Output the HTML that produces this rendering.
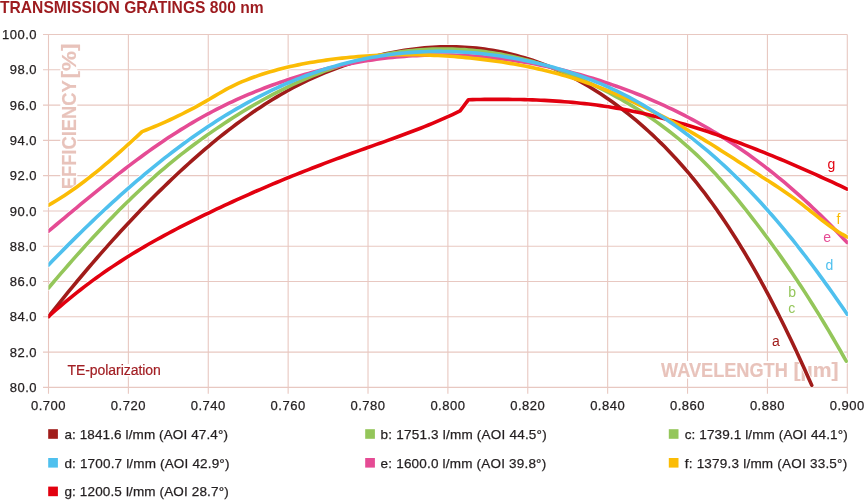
<!DOCTYPE html>
<html><head><meta charset="utf-8"><style>
html,body{margin:0;padding:0;background:#fff;}
body{width:865px;height:500px;overflow:hidden;position:relative;}
svg{position:absolute;left:0;top:0;will-change:transform;}
text{font-family:"Liberation Sans",sans-serif;}
.tick{font-size:13px;fill:#231f20;stroke:#231f20;stroke-width:0.25px;letter-spacing:0.5px;}
.leg text{stroke:#231f20;stroke-width:0.25px;} .leg{font-size:13.5px;fill:#231f20;letter-spacing:0px;}
.axt{font-size:20px;font-weight:bold;fill:#e8c3bb;stroke:#e8c3bb;stroke-width:0.15px;letter-spacing:0px;}
.tep{font-size:14px;fill:#a21f24;stroke:#a21f24;stroke-width:0.2px;letter-spacing:0px;}
.clab{font-size:14px;}
.title{font-size:16.5px;font-weight:bold;fill:#9d1b1f;letter-spacing:0px;}
</style></head><body>
<svg width="865" height="500" viewBox="0 0 865 500">
<text class="title" transform="translate(0,12.7) scale(0.948,1)">TRANSMISSION GRATINGS 800 nm</text>
<g stroke="#e8c8c1" stroke-width="1.1" fill="none"><line x1="43" y1="34.50" x2="847.30" y2="34.50"/><line x1="43" y1="69.79" x2="847.30" y2="69.79"/><line x1="43" y1="105.08" x2="847.30" y2="105.08"/><line x1="43" y1="140.37" x2="847.30" y2="140.37"/><line x1="43" y1="175.66" x2="847.30" y2="175.66"/><line x1="43" y1="210.95" x2="847.30" y2="210.95"/><line x1="43" y1="246.24" x2="847.30" y2="246.24"/><line x1="43" y1="281.53" x2="847.30" y2="281.53"/><line x1="43" y1="316.82" x2="847.30" y2="316.82"/><line x1="43" y1="352.11" x2="847.30" y2="352.11"/><line x1="43" y1="387.40" x2="847.30" y2="387.40"/><line x1="48.50" y1="34.50" x2="48.50" y2="393.7"/><line x1="128.38" y1="34.50" x2="128.38" y2="393.7"/><line x1="208.26" y1="34.50" x2="208.26" y2="393.7"/><line x1="288.14" y1="34.50" x2="288.14" y2="393.7"/><line x1="368.02" y1="34.50" x2="368.02" y2="393.7"/><line x1="447.90" y1="34.50" x2="447.90" y2="393.7"/><line x1="527.78" y1="34.50" x2="527.78" y2="393.7"/><line x1="607.66" y1="34.50" x2="607.66" y2="393.7"/><line x1="687.54" y1="34.50" x2="687.54" y2="393.7"/><line x1="767.42" y1="34.50" x2="767.42" y2="393.7"/><line x1="847.30" y1="34.50" x2="847.30" y2="393.7"/></g>

<rect x="60.3" y="42" width="17" height="147" fill="#fff"/>
<text class="axt" transform="translate(75.6,189.3) rotate(-90)" textLength="109" lengthAdjust="spacingAndGlyphs">EFFICIENCY</text>
<text class="axt" transform="translate(75.6,78.5) rotate(-90)" textLength="34.9" lengthAdjust="spacingAndGlyphs">[%]</text>
<rect x="659" y="361" width="180" height="17.6" fill="#fff"/>
<text class="axt" x="661" y="376.6" textLength="126.8" lengthAdjust="spacingAndGlyphs">WAVELENGTH</text>
<text class="axt" x="793.6" y="376.6" textLength="45" lengthAdjust="spacingAndGlyphs">[µm]</text>
<rect x="66" y="364" width="96" height="12.5" fill="#fff"/>
<text class="tep" x="67.4" y="375.1" textLength="93.4">TE-polarization</text>

<g class="tick"><text x="37" y="39.10" text-anchor="end">100.0</text><text x="37" y="74.39" text-anchor="end">98.0</text><text x="37" y="109.68" text-anchor="end">96.0</text><text x="37" y="144.97" text-anchor="end">94.0</text><text x="37" y="180.26" text-anchor="end">92.0</text><text x="37" y="215.55" text-anchor="end">90.0</text><text x="37" y="250.84" text-anchor="end">88.0</text><text x="37" y="286.13" text-anchor="end">86.0</text><text x="37" y="321.42" text-anchor="end">84.0</text><text x="37" y="356.71" text-anchor="end">82.0</text><text x="37" y="392.00" text-anchor="end">80.0</text><text x="48.50" y="410" text-anchor="middle">0.700</text><text x="128.38" y="410" text-anchor="middle">0.720</text><text x="208.26" y="410" text-anchor="middle">0.740</text><text x="288.14" y="410" text-anchor="middle">0.760</text><text x="368.02" y="410" text-anchor="middle">0.780</text><text x="447.90" y="410" text-anchor="middle">0.800</text><text x="527.78" y="410" text-anchor="middle">0.820</text><text x="607.66" y="410" text-anchor="middle">0.840</text><text x="687.54" y="410" text-anchor="middle">0.860</text><text x="767.42" y="410" text-anchor="middle">0.880</text><text x="847.30" y="410" text-anchor="middle">0.900</text></g>
<defs><clipPath id="pc"><rect x="48.4" y="20" width="799.5" height="367.6"/></clipPath></defs><g clip-path="url(#pc)"><g fill="none" stroke="#fff" stroke-width="5.2" stroke-linejoin="round" stroke-linecap="round"><path d="M48.50,316.60 L52.50,311.55 L56.50,306.53 L60.50,301.55 L64.50,296.61 L68.50,291.71 L72.50,286.84 L76.50,282.02 L80.50,277.23 L84.50,272.48 L88.50,267.78 L92.50,263.11 L96.50,258.48 L100.50,253.89 L104.50,249.35 L108.50,244.84 L112.50,240.38 L116.50,235.96 L120.50,231.58 L124.50,227.24 L128.50,222.94 L132.50,218.69 L136.50,214.47 L140.50,210.31 L144.50,206.18 L148.50,202.10 L152.50,198.06 L156.50,194.06 L160.50,190.11 L164.50,186.21 L168.50,182.34 L172.50,178.53 L176.50,174.76 L180.50,171.03 L184.50,167.35 L188.50,163.72 L192.50,160.14 L196.50,156.60 L200.50,153.12 L204.50,149.68 L208.50,146.29 L212.50,142.96 L216.50,139.68 L220.50,136.45 L224.50,133.27 L228.50,130.15 L232.50,127.08 L236.50,124.06 L240.50,121.10 L244.50,118.20 L248.50,115.36 L252.50,112.57 L256.50,109.84 L260.50,107.17 L264.50,104.56 L268.50,102.01 L272.50,99.53 L276.50,97.10 L280.50,94.74 L284.50,92.44 L288.50,90.20 L292.50,88.03 L296.50,85.92 L300.50,83.88 L304.50,81.90 L308.50,79.98 L312.50,78.12 L316.50,76.33 L320.50,74.59 L324.50,72.91 L328.50,71.28 L332.50,69.72 L336.50,68.20 L340.50,66.75 L344.50,65.34 L348.50,63.99 L352.50,62.69 L356.50,61.45 L360.50,60.25 L364.50,59.10 L368.50,58.00 L372.50,56.95 L376.50,55.95 L380.50,54.99 L384.50,54.09 L388.50,53.23 L392.50,52.42 L396.50,51.67 L400.50,50.97 L404.50,50.32 L408.50,49.72 L412.50,49.17 L416.50,48.68 L420.50,48.25 L424.50,47.86 L428.50,47.54 L432.50,47.27 L436.50,47.05 L440.50,46.90 L444.50,46.80 L448.50,46.76 L452.50,46.77 L456.50,46.85 L460.50,46.99 L464.50,47.19 L468.50,47.44 L472.50,47.76 L476.50,48.15 L480.50,48.59 L484.50,49.10 L488.50,49.67 L492.50,50.31 L496.50,51.01 L500.50,51.77 L504.50,52.61 L508.50,53.50 L512.50,54.47 L516.50,55.50 L520.50,56.61 L524.50,57.78 L528.50,59.02 L532.50,60.32 L536.50,61.70 L540.50,63.16 L544.50,64.68 L548.50,66.27 L552.50,67.94 L556.50,69.68 L560.50,71.49 L564.50,73.38 L568.50,75.35 L572.50,77.38 L576.50,79.50 L580.50,81.69 L584.50,83.96 L588.50,86.30 L592.50,88.73 L596.50,91.23 L600.50,93.81 L604.50,96.48 L608.50,99.22 L612.50,102.04 L616.50,104.95 L620.50,107.93 L624.50,111.00 L628.50,114.16 L632.50,117.39 L636.50,120.71 L640.50,124.12 L644.50,127.63 L648.50,131.22 L652.50,134.91 L656.50,138.71 L660.50,142.60 L664.50,146.60 L668.50,150.71 L672.50,154.92 L676.50,159.25 L680.50,163.70 L684.50,168.26 L688.50,172.95 L692.50,177.76 L696.50,182.70 L700.50,187.77 L704.50,192.96 L708.50,198.30 L712.50,203.77 L716.50,209.38 L720.50,215.12 L724.50,221.00 L728.50,227.03 L732.50,233.19 L736.50,239.50 L740.50,245.95 L744.50,252.54 L748.50,259.28 L752.50,266.17 L756.50,273.21 L760.50,280.39 L764.50,287.71 L768.50,295.18 L772.50,302.80 L776.50,310.57 L780.50,318.48 L784.50,326.53 L788.50,334.73 L792.50,343.08 L796.50,351.57 L800.50,360.20 L804.50,368.98 L808.50,377.90 L811.80,385.37"/><path d="M48.50,288.01 L52.50,283.28 L56.50,278.59 L60.50,273.93 L64.50,269.31 L68.50,264.72 L72.50,260.17 L76.50,255.65 L80.50,251.18 L84.50,246.75 L88.50,242.35 L92.50,238.00 L96.50,233.70 L100.50,229.43 L104.50,225.22 L108.50,221.04 L112.50,216.92 L116.50,212.84 L120.50,208.81 L124.50,204.84 L128.50,200.91 L132.50,197.04 L136.50,193.22 L140.50,189.45 L144.50,185.74 L148.50,182.08 L152.50,178.48 L156.50,174.94 L160.50,171.46 L164.50,168.04 L168.50,164.68 L172.50,161.38 L176.50,158.14 L180.50,154.96 L184.50,151.84 L188.50,148.77 L192.50,145.75 L196.50,142.78 L200.50,139.86 L204.50,136.98 L208.50,134.15 L212.50,131.36 L216.50,128.61 L220.50,125.90 L224.50,123.24 L228.50,120.62 L232.50,118.04 L236.50,115.50 L240.50,113.01 L244.50,110.56 L248.50,108.16 L252.50,105.80 L256.50,103.48 L260.50,101.21 L264.50,98.98 L268.50,96.80 L272.50,94.67 L276.50,92.58 L280.50,90.54 L284.50,88.54 L288.50,86.59 L292.50,84.69 L296.50,82.83 L300.50,81.02 L304.50,79.27 L308.50,77.55 L312.50,75.89 L316.50,74.28 L320.50,72.71 L324.50,71.19 L328.50,69.73 L332.50,68.31 L336.50,66.94 L340.50,65.63 L344.50,64.36 L348.50,63.14 L352.50,61.97 L356.50,60.86 L360.50,59.79 L364.50,58.77 L368.50,57.80 L372.50,56.88 L376.50,56.02 L380.50,55.20 L384.50,54.43 L388.50,53.72 L392.50,53.05 L396.50,52.43 L400.50,51.87 L404.50,51.35 L408.50,50.89 L412.50,50.47 L416.50,50.11 L420.50,49.79 L424.50,49.53 L428.50,49.31 L432.50,49.15 L436.50,49.04 L440.50,48.98 L444.50,48.97 L448.50,49.01 L452.50,49.10 L456.50,49.24 L460.50,49.43 L464.50,49.67 L468.50,49.96 L472.50,50.31 L476.50,50.70 L480.50,51.15 L484.50,51.65 L488.50,52.19 L492.50,52.79 L496.50,53.44 L500.50,54.14 L504.50,54.90 L508.50,55.70 L512.50,56.55 L516.50,57.46 L520.50,58.41 L524.50,59.42 L528.50,60.48 L532.50,61.59 L536.50,62.75 L540.50,63.97 L544.50,65.23 L548.50,66.55 L552.50,67.91 L556.50,69.33 L560.50,70.80 L564.50,72.32 L568.50,73.90 L572.50,75.52 L576.50,77.20 L580.50,78.92 L584.50,80.70 L588.50,82.54 L592.50,84.42 L596.50,86.35 L600.50,88.34 L604.50,90.38 L608.50,92.47 L612.50,94.61 L616.50,96.81 L620.50,99.05 L624.50,101.35 L628.50,103.70 L632.50,106.11 L636.50,108.57 L640.50,111.09 L644.50,113.68 L648.50,116.34 L652.50,119.07 L656.50,121.87 L660.50,124.75 L664.50,127.71 L668.50,130.75 L672.50,133.89 L676.50,137.11 L680.50,140.42 L684.50,143.84 L688.50,147.35 L692.50,150.97 L696.50,154.69 L700.50,158.52 L704.50,162.47 L708.50,166.53 L712.50,170.71 L716.50,175.01 L720.50,179.43 L724.50,183.96 L728.50,188.59 L732.50,193.32 L736.50,198.15 L740.50,203.06 L744.50,208.06 L748.50,213.13 L752.50,218.28 L756.50,223.50 L760.50,228.78 L764.50,234.12 L768.50,239.52 L772.50,244.99 L776.50,250.53 L780.50,256.15 L784.50,261.85 L788.50,267.63 L792.50,273.49 L796.50,279.45 L800.50,285.50 L804.50,291.64 L808.50,297.88 L812.50,304.22 L816.50,310.64 L820.50,317.15 L824.50,323.76 L828.50,330.44 L832.50,337.22 L836.50,344.08 L840.50,351.02 L844.50,358.04 L846.30,361.22"/><path d="M48.50,231.23 L52.50,227.86 L56.50,224.50 L60.50,221.14 L64.50,217.79 L68.50,214.44 L72.50,211.10 L76.50,207.78 L80.50,204.46 L84.50,201.16 L88.50,197.88 L92.50,194.61 L96.50,191.36 L100.50,188.13 L104.50,184.92 L108.50,181.73 L112.50,178.57 L116.50,175.43 L120.50,172.32 L124.50,169.23 L128.50,166.18 L132.50,163.16 L136.50,160.17 L140.50,157.21 L144.50,154.30 L148.50,151.41 L152.50,148.57 L156.50,145.77 L160.50,143.01 L164.50,140.29 L168.50,137.62 L172.50,134.99 L176.50,132.41 L180.50,129.88 L184.50,127.41 L188.50,124.98 L192.50,122.60 L196.50,120.28 L200.50,118.01 L204.50,115.79 L208.50,113.61 L212.50,111.49 L216.50,109.41 L220.50,107.39 L224.50,105.40 L228.50,103.47 L232.50,101.58 L236.50,99.73 L240.50,97.93 L244.50,96.18 L248.50,94.46 L252.50,92.79 L256.50,91.16 L260.50,89.57 L264.50,88.02 L268.50,86.51 L272.50,85.04 L276.50,83.60 L280.50,82.21 L284.50,80.85 L288.50,79.53 L292.50,78.24 L296.50,76.99 L300.50,75.77 L304.50,74.59 L308.50,73.45 L312.50,72.34 L316.50,71.26 L320.50,70.22 L324.50,69.22 L328.50,68.24 L332.50,67.31 L336.50,66.41 L340.50,65.54 L344.50,64.71 L348.50,63.91 L352.50,63.15 L356.50,62.42 L360.50,61.73 L364.50,61.07 L368.50,60.44 L372.50,59.85 L376.50,59.29 L380.50,58.77 L384.50,58.28 L388.50,57.83 L392.50,57.40 L396.50,57.02 L400.50,56.66 L404.50,56.34 L408.50,56.06 L412.50,55.81 L416.50,55.59 L420.50,55.40 L424.50,55.25 L428.50,55.13 L432.50,55.05 L436.50,54.99 L440.50,54.98 L444.50,54.99 L448.50,55.04 L452.50,55.12 L456.50,55.23 L460.50,55.38 L464.50,55.56 L468.50,55.77 L472.50,56.02 L476.50,56.29 L480.50,56.61 L484.50,56.95 L488.50,57.32 L492.50,57.73 L496.50,58.17 L500.50,58.64 L504.50,59.15 L508.50,59.69 L512.50,60.26 L516.50,60.86 L520.50,61.49 L524.50,62.16 L528.50,62.85 L532.50,63.58 L536.50,64.35 L540.50,65.14 L544.50,65.96 L548.50,66.82 L552.50,67.71 L556.50,68.63 L560.50,69.58 L564.50,70.56 L568.50,71.58 L572.50,72.62 L576.50,73.70 L580.50,74.81 L584.50,75.95 L588.50,77.13 L592.50,78.33 L596.50,79.57 L600.50,80.84 L604.50,82.14 L608.50,83.47 L612.50,84.84 L616.50,86.23 L620.50,87.66 L624.50,89.12 L628.50,90.61 L632.50,92.14 L636.50,93.70 L640.50,95.29 L644.50,96.92 L648.50,98.59 L652.50,100.30 L656.50,102.04 L660.50,103.83 L664.50,105.65 L668.50,107.52 L672.50,109.42 L676.50,111.37 L680.50,113.37 L684.50,115.40 L688.50,117.49 L692.50,119.62 L696.50,121.79 L700.50,124.02 L704.50,126.29 L708.50,128.60 L712.50,130.97 L716.50,133.39 L720.50,135.85 L724.50,138.37 L728.50,140.94 L732.50,143.55 L736.50,146.22 L740.50,148.95 L744.50,151.72 L748.50,154.55 L752.50,157.43 L756.50,160.37 L760.50,163.36 L764.50,166.40 L768.50,169.50 L772.50,172.66 L776.50,175.87 L780.50,179.15 L784.50,182.47 L788.50,185.86 L792.50,189.31 L796.50,192.81 L800.50,196.38 L804.50,200.01 L808.50,203.69 L812.50,207.44 L816.50,211.25 L820.50,215.12 L824.50,219.06 L828.50,223.06 L832.50,227.12 L836.50,231.25 L840.50,235.44 L844.50,239.70 L847.20,242.61"/><path d="M48.50,316.60 L52.50,313.01 L56.50,309.48 L60.50,306.03 L64.50,302.64 L68.50,299.31 L72.50,296.05 L76.50,292.85 L80.50,289.71 L84.50,286.64 L88.50,283.61 L92.50,280.65 L96.50,277.74 L100.50,274.89 L104.50,272.08 L108.50,269.33 L112.50,266.63 L116.50,263.97 L120.50,261.37 L124.50,258.81 L128.50,256.29 L132.50,253.81 L136.50,251.38 L140.50,248.98 L144.50,246.63 L148.50,244.31 L152.50,242.03 L156.50,239.78 L160.50,237.56 L164.50,235.38 L168.50,233.23 L172.50,231.10 L176.50,229.00 L180.50,226.93 L184.50,224.88 L188.50,222.86 L192.50,220.85 L196.50,218.87 L200.50,216.91 L204.50,214.96 L208.50,213.03 L212.50,211.11 L216.50,209.21 L220.50,207.33 L224.50,205.46 L228.50,203.60 L232.50,201.76 L236.50,199.93 L240.50,198.12 L244.50,196.32 L248.50,194.54 L252.50,192.77 L256.50,191.02 L260.50,189.28 L264.50,187.56 L268.50,185.85 L272.50,184.16 L276.50,182.48 L280.50,180.82 L284.50,179.17 L288.50,177.53 L292.50,175.91 L296.50,174.31 L300.50,172.72 L304.50,171.14 L308.50,169.57 L312.50,168.02 L316.50,166.48 L320.50,164.95 L324.50,163.43 L328.50,161.92 L332.50,160.42 L336.50,158.93 L340.50,157.45 L344.50,155.98 L348.50,154.51 L352.50,153.06 L356.50,151.60 L360.50,150.16 L364.50,148.72 L368.50,147.29 L372.50,145.86 L376.50,144.43 L380.50,143.00 L384.50,141.57 L388.50,140.14 L392.50,138.70 L396.50,137.25 L400.50,135.78 L404.50,134.30 L408.50,132.81 L412.50,131.29 L416.50,129.76 L420.50,128.20 L424.50,126.61 L428.50,124.99 L432.50,123.35 L436.50,121.67 L440.50,119.95 L444.50,118.20 L448.50,116.40 L452.50,114.56 L456.50,112.68 L460.10,110.94 L460.10,110.90 L468.50,99.70 L472.50,99.62 L476.50,99.54 L480.50,99.48 L484.50,99.42 L488.50,99.38 L492.50,99.36 L496.50,99.34 L500.50,99.34 L504.50,99.35 L508.50,99.38 L512.50,99.43 L516.50,99.49 L520.50,99.56 L524.50,99.66 L528.50,99.77 L532.50,99.90 L536.50,100.05 L540.50,100.23 L544.50,100.42 L548.50,100.63 L552.50,100.87 L556.50,101.12 L560.50,101.41 L564.50,101.71 L568.50,102.04 L572.50,102.40 L576.50,102.78 L580.50,103.18 L584.50,103.62 L588.50,104.08 L592.50,104.57 L596.50,105.09 L600.50,105.64 L604.50,106.22 L608.50,106.83 L612.50,107.47 L616.50,108.14 L620.50,108.85 L624.50,109.59 L628.50,110.36 L632.50,111.16 L636.50,112.00 L640.50,112.86 L644.50,113.76 L648.50,114.69 L652.50,115.64 L656.50,116.63 L660.50,117.64 L664.50,118.69 L668.50,119.76 L672.50,120.86 L676.50,121.98 L680.50,123.13 L684.50,124.31 L688.50,125.52 L692.50,126.75 L696.50,128.00 L700.50,129.28 L704.50,130.58 L708.50,131.91 L712.50,133.26 L716.50,134.63 L720.50,136.02 L724.50,137.44 L728.50,138.87 L732.50,140.33 L736.50,141.81 L740.50,143.30 L744.50,144.82 L748.50,146.36 L752.50,147.91 L756.50,149.48 L760.50,151.07 L764.50,152.68 L768.50,154.31 L772.50,155.95 L776.50,157.60 L780.50,159.28 L784.50,160.96 L788.50,162.66 L792.50,164.38 L796.50,166.11 L800.50,167.85 L804.50,169.61 L808.50,171.37 L812.50,173.15 L816.50,174.94 L820.50,176.74 L824.50,178.56 L828.50,180.38 L832.50,182.21 L836.50,184.05 L840.50,185.90 L844.50,187.76 L847.20,189.02"/><path d="M48.50,205.20 L52.50,202.91 L56.50,200.52 L60.50,198.04 L64.50,195.45 L68.50,192.78 L72.50,190.02 L76.50,187.18 L80.50,184.25 L84.50,181.25 L88.50,178.18 L92.50,175.03 L96.50,171.82 L100.50,168.55 L104.50,165.22 L108.50,161.83 L112.50,158.38 L116.50,154.89 L120.50,151.35 L124.50,147.77 L128.50,144.15 L132.50,140.50 L136.50,136.81 L140.50,133.09 L142.10,131.60 L146.10,130.02 L150.10,128.41 L154.10,126.76 L158.10,125.07 L162.10,123.34 L166.10,121.56 L170.10,119.74 L174.10,117.87 L178.10,115.96 L182.10,113.99 L186.10,111.98 L190.10,109.91 L194.10,107.79 L198.10,105.62 L202.10,103.40 L206.10,101.12 L210.10,98.78 L214.10,96.40 L218.10,94.02 L222.10,91.68 L226.10,89.41 L230.10,87.27 L234.10,85.27 L238.10,83.42 L242.10,81.68 L246.10,80.06 L250.10,78.51 L254.10,77.04 L258.10,75.64 L262.10,74.30 L266.10,73.03 L270.10,71.82 L274.10,70.66 L278.10,69.57 L282.10,68.53 L286.10,67.54 L290.10,66.60 L294.10,65.71 L298.10,64.87 L302.10,64.07 L306.10,63.32 L310.10,62.60 L314.10,61.93 L318.10,61.29 L322.10,60.68 L326.10,60.11 L330.10,59.57 L334.10,59.06 L338.10,58.57 L342.10,58.12 L346.10,57.69 L350.10,57.30 L354.10,56.93 L358.10,56.59 L362.10,56.28 L366.10,55.99 L370.10,55.74 L374.10,55.51 L378.10,55.31 L382.10,55.14 L386.10,54.99 L390.10,54.87 L394.10,54.78 L398.10,54.72 L402.10,54.68 L406.10,54.67 L410.10,54.69 L414.10,54.73 L418.10,54.80 L422.10,54.89 L426.10,55.01 L430.10,55.16 L434.10,55.33 L438.10,55.53 L442.10,55.75 L446.10,56.00 L450.10,56.27 L454.10,56.57 L458.10,56.90 L462.10,57.24 L466.10,57.62 L470.10,58.01 L474.10,58.43 L478.10,58.88 L482.10,59.35 L486.10,59.84 L490.10,60.36 L494.10,60.91 L498.10,61.48 L502.10,62.08 L506.10,62.71 L510.10,63.37 L514.10,64.06 L518.10,64.78 L522.10,65.53 L526.10,66.31 L530.10,67.13 L534.10,67.98 L538.10,68.87 L542.10,69.79 L546.10,70.75 L550.10,71.74 L554.10,72.77 L558.10,73.85 L562.10,74.96 L566.10,76.11 L570.10,77.30 L574.10,78.54 L578.10,79.82 L582.10,81.14 L586.10,82.50 L590.10,83.91 L594.10,85.37 L598.10,86.87 L602.10,88.42 L606.10,90.02 L610.10,91.66 L614.10,93.36 L618.10,95.09 L622.10,96.87 L626.10,98.68 L630.10,100.52 L634.10,102.39 L638.10,104.29 L642.10,106.21 L646.10,108.14 L650.10,110.10 L654.10,112.08 L658.10,114.09 L662.10,116.14 L666.10,118.21 L670.10,120.32 L674.10,122.47 L678.10,124.66 L682.10,126.89 L686.10,129.17 L690.10,131.49 L694.10,133.84 L698.10,136.23 L702.10,138.65 L706.10,141.11 L710.10,143.58 L714.10,146.08 L718.10,148.61 L722.10,151.15 L726.10,153.70 L730.10,156.27 L734.10,158.85 L738.10,161.43 L742.10,164.02 L746.10,166.60 L750.10,169.19 L754.10,171.77 L758.10,174.34 L762.10,176.90 L766.10,179.46 L770.10,182.03 L774.10,184.62 L778.10,187.24 L782.10,189.91 L786.10,192.65 L790.10,195.46 L794.10,198.36 L798.10,201.36 L802.10,204.44 L806.10,207.59 L810.10,210.77 L814.10,213.96 L818.10,217.12 L822.10,220.24 L826.10,223.28 L830.10,226.22 L834.10,229.03 L838.10,231.68 L842.10,234.16 L846.10,236.42 L847.20,237.00"/><path d="M48.50,265.01 L52.50,260.87 L56.50,256.76 L60.50,252.68 L64.50,248.63 L68.50,244.61 L72.50,240.62 L76.50,236.65 L80.50,232.72 L84.50,228.82 L88.50,224.95 L92.50,221.12 L96.50,217.31 L100.50,213.54 L104.50,209.80 L108.50,206.10 L112.50,202.43 L116.50,198.80 L120.50,195.20 L124.50,191.65 L128.50,188.12 L132.50,184.64 L136.50,181.19 L140.50,177.79 L144.50,174.42 L148.50,171.09 L152.50,167.80 L156.50,164.55 L160.50,161.35 L164.50,158.19 L168.50,155.07 L172.50,151.99 L176.50,148.95 L180.50,145.96 L184.50,143.02 L188.50,140.12 L192.50,137.26 L196.50,134.45 L200.50,131.69 L204.50,128.97 L208.50,126.30 L212.50,123.67 L216.50,121.09 L220.50,118.56 L224.50,116.08 L228.50,113.64 L232.50,111.25 L236.50,108.91 L240.50,106.61 L244.50,104.36 L248.50,102.16 L252.50,100.01 L256.50,97.90 L260.50,95.84 L264.50,93.83 L268.50,91.86 L272.50,89.95 L276.50,88.07 L280.50,86.25 L284.50,84.47 L288.50,82.75 L292.50,81.06 L296.50,79.43 L300.50,77.84 L304.50,76.30 L308.50,74.81 L312.50,73.37 L316.50,71.97 L320.50,70.62 L324.50,69.32 L328.50,68.06 L332.50,66.86 L336.50,65.70 L340.50,64.58 L344.50,63.52 L348.50,62.50 L352.50,61.53 L356.50,60.60 L360.50,59.72 L364.50,58.88 L368.50,58.10 L372.50,57.35 L376.50,56.65 L380.50,56.00 L384.50,55.39 L388.50,54.82 L392.50,54.30 L396.50,53.82 L400.50,53.39 L404.50,53.00 L408.50,52.65 L412.50,52.35 L416.50,52.09 L420.50,51.87 L424.50,51.69 L428.50,51.56 L432.50,51.47 L436.50,51.42 L440.50,51.41 L444.50,51.44 L448.50,51.51 L452.50,51.63 L456.50,51.78 L460.50,51.98 L464.50,52.21 L468.50,52.49 L472.50,52.80 L476.50,53.15 L480.50,53.55 L484.50,53.98 L488.50,54.45 L492.50,54.96 L496.50,55.51 L500.50,56.09 L504.50,56.71 L508.50,57.37 L512.50,58.07 L516.50,58.81 L520.50,59.58 L524.50,60.39 L528.50,61.24 L532.50,62.12 L536.50,63.04 L540.50,63.99 L544.50,64.99 L548.50,66.03 L552.50,67.11 L556.50,68.23 L560.50,69.40 L564.50,70.61 L568.50,71.87 L572.50,73.17 L576.50,74.53 L580.50,75.93 L584.50,77.38 L588.50,78.89 L592.50,80.44 L596.50,82.05 L600.50,83.71 L604.50,85.43 L608.50,87.21 L612.50,89.04 L616.50,90.94 L620.50,92.89 L624.50,94.90 L628.50,96.96 L632.50,99.09 L636.50,101.28 L640.50,103.54 L644.50,105.85 L648.50,108.23 L652.50,110.67 L656.50,113.17 L660.50,115.73 L664.50,118.37 L668.50,121.06 L672.50,123.82 L676.50,126.65 L680.50,129.55 L684.50,132.51 L688.50,135.54 L692.50,138.64 L696.50,141.80 L700.50,145.04 L704.50,148.34 L708.50,151.72 L712.50,155.17 L716.50,158.69 L720.50,162.28 L724.50,165.94 L728.50,169.68 L732.50,173.49 L736.50,177.37 L740.50,181.33 L744.50,185.37 L748.50,189.48 L752.50,193.66 L756.50,197.93 L760.50,202.27 L764.50,206.69 L768.50,211.18 L772.50,215.75 L776.50,220.40 L780.50,225.12 L784.50,229.92 L788.50,234.79 L792.50,239.73 L796.50,244.75 L800.50,249.84 L804.50,254.99 L808.50,260.22 L812.50,265.52 L816.50,270.89 L820.50,276.32 L824.50,281.83 L828.50,287.39 L832.50,293.03 L836.50,298.73 L840.50,304.50 L844.50,310.33 L847.20,314.30"/></g><g fill="none" stroke-width="3.6" stroke-linejoin="round" stroke-linecap="round"><path d="M48.50,316.60 L52.50,311.55 L56.50,306.53 L60.50,301.55 L64.50,296.61 L68.50,291.71 L72.50,286.84 L76.50,282.02 L80.50,277.23 L84.50,272.48 L88.50,267.78 L92.50,263.11 L96.50,258.48 L100.50,253.89 L104.50,249.35 L108.50,244.84 L112.50,240.38 L116.50,235.96 L120.50,231.58 L124.50,227.24 L128.50,222.94 L132.50,218.69 L136.50,214.47 L140.50,210.31 L144.50,206.18 L148.50,202.10 L152.50,198.06 L156.50,194.06 L160.50,190.11 L164.50,186.21 L168.50,182.34 L172.50,178.53 L176.50,174.76 L180.50,171.03 L184.50,167.35 L188.50,163.72 L192.50,160.14 L196.50,156.60 L200.50,153.12 L204.50,149.68 L208.50,146.29 L212.50,142.96 L216.50,139.68 L220.50,136.45 L224.50,133.27 L228.50,130.15 L232.50,127.08 L236.50,124.06 L240.50,121.10 L244.50,118.20 L248.50,115.36 L252.50,112.57 L256.50,109.84 L260.50,107.17 L264.50,104.56 L268.50,102.01 L272.50,99.53 L276.50,97.10 L280.50,94.74 L284.50,92.44 L288.50,90.20 L292.50,88.03 L296.50,85.92 L300.50,83.88 L304.50,81.90 L308.50,79.98 L312.50,78.12 L316.50,76.33 L320.50,74.59 L324.50,72.91 L328.50,71.28 L332.50,69.72 L336.50,68.20 L340.50,66.75 L344.50,65.34 L348.50,63.99 L352.50,62.69 L356.50,61.45 L360.50,60.25 L364.50,59.10 L368.50,58.00 L372.50,56.95 L376.50,55.95 L380.50,54.99 L384.50,54.09 L388.50,53.23 L392.50,52.42 L396.50,51.67 L400.50,50.97 L404.50,50.32 L408.50,49.72 L412.50,49.17 L416.50,48.68 L420.50,48.25 L424.50,47.86 L428.50,47.54 L432.50,47.27 L436.50,47.05 L440.50,46.90 L444.50,46.80 L448.50,46.76 L452.50,46.77 L456.50,46.85 L460.50,46.99 L464.50,47.19 L468.50,47.44 L472.50,47.76 L476.50,48.15 L480.50,48.59 L484.50,49.10 L488.50,49.67 L492.50,50.31 L496.50,51.01 L500.50,51.77 L504.50,52.61 L508.50,53.50 L512.50,54.47 L516.50,55.50 L520.50,56.61 L524.50,57.78 L528.50,59.02 L532.50,60.32 L536.50,61.70 L540.50,63.16 L544.50,64.68 L548.50,66.27 L552.50,67.94 L556.50,69.68 L560.50,71.49 L564.50,73.38 L568.50,75.35 L572.50,77.38 L576.50,79.50 L580.50,81.69 L584.50,83.96 L588.50,86.30 L592.50,88.73 L596.50,91.23 L600.50,93.81 L604.50,96.48 L608.50,99.22 L612.50,102.04 L616.50,104.95 L620.50,107.93 L624.50,111.00 L628.50,114.16 L632.50,117.39 L636.50,120.71 L640.50,124.12 L644.50,127.63 L648.50,131.22 L652.50,134.91 L656.50,138.71 L660.50,142.60 L664.50,146.60 L668.50,150.71 L672.50,154.92 L676.50,159.25 L680.50,163.70 L684.50,168.26 L688.50,172.95 L692.50,177.76 L696.50,182.70 L700.50,187.77 L704.50,192.96 L708.50,198.30 L712.50,203.77 L716.50,209.38 L720.50,215.12 L724.50,221.00 L728.50,227.03 L732.50,233.19 L736.50,239.50 L740.50,245.95 L744.50,252.54 L748.50,259.28 L752.50,266.17 L756.50,273.21 L760.50,280.39 L764.50,287.71 L768.50,295.18 L772.50,302.80 L776.50,310.57 L780.50,318.48 L784.50,326.53 L788.50,334.73 L792.50,343.08 L796.50,351.57 L800.50,360.20 L804.50,368.98 L808.50,377.90 L811.80,385.37" stroke="#a01c1a"/><path d="M48.50,288.01 L52.50,283.28 L56.50,278.59 L60.50,273.93 L64.50,269.31 L68.50,264.72 L72.50,260.17 L76.50,255.65 L80.50,251.18 L84.50,246.75 L88.50,242.35 L92.50,238.00 L96.50,233.70 L100.50,229.43 L104.50,225.22 L108.50,221.04 L112.50,216.92 L116.50,212.84 L120.50,208.81 L124.50,204.84 L128.50,200.91 L132.50,197.04 L136.50,193.22 L140.50,189.45 L144.50,185.74 L148.50,182.08 L152.50,178.48 L156.50,174.94 L160.50,171.46 L164.50,168.04 L168.50,164.68 L172.50,161.38 L176.50,158.14 L180.50,154.96 L184.50,151.84 L188.50,148.77 L192.50,145.75 L196.50,142.78 L200.50,139.86 L204.50,136.98 L208.50,134.15 L212.50,131.36 L216.50,128.61 L220.50,125.90 L224.50,123.24 L228.50,120.62 L232.50,118.04 L236.50,115.50 L240.50,113.01 L244.50,110.56 L248.50,108.16 L252.50,105.80 L256.50,103.48 L260.50,101.21 L264.50,98.98 L268.50,96.80 L272.50,94.67 L276.50,92.58 L280.50,90.54 L284.50,88.54 L288.50,86.59 L292.50,84.69 L296.50,82.83 L300.50,81.02 L304.50,79.27 L308.50,77.55 L312.50,75.89 L316.50,74.28 L320.50,72.71 L324.50,71.19 L328.50,69.73 L332.50,68.31 L336.50,66.94 L340.50,65.63 L344.50,64.36 L348.50,63.14 L352.50,61.97 L356.50,60.86 L360.50,59.79 L364.50,58.77 L368.50,57.80 L372.50,56.88 L376.50,56.02 L380.50,55.20 L384.50,54.43 L388.50,53.72 L392.50,53.05 L396.50,52.43 L400.50,51.87 L404.50,51.35 L408.50,50.89 L412.50,50.47 L416.50,50.11 L420.50,49.79 L424.50,49.53 L428.50,49.31 L432.50,49.15 L436.50,49.04 L440.50,48.98 L444.50,48.97 L448.50,49.01 L452.50,49.10 L456.50,49.24 L460.50,49.43 L464.50,49.67 L468.50,49.96 L472.50,50.31 L476.50,50.70 L480.50,51.15 L484.50,51.65 L488.50,52.19 L492.50,52.79 L496.50,53.44 L500.50,54.14 L504.50,54.90 L508.50,55.70 L512.50,56.55 L516.50,57.46 L520.50,58.41 L524.50,59.42 L528.50,60.48 L532.50,61.59 L536.50,62.75 L540.50,63.97 L544.50,65.23 L548.50,66.55 L552.50,67.91 L556.50,69.33 L560.50,70.80 L564.50,72.32 L568.50,73.90 L572.50,75.52 L576.50,77.20 L580.50,78.92 L584.50,80.70 L588.50,82.54 L592.50,84.42 L596.50,86.35 L600.50,88.34 L604.50,90.38 L608.50,92.47 L612.50,94.61 L616.50,96.81 L620.50,99.05 L624.50,101.35 L628.50,103.70 L632.50,106.11 L636.50,108.57 L640.50,111.09 L644.50,113.68 L648.50,116.34 L652.50,119.07 L656.50,121.87 L660.50,124.75 L664.50,127.71 L668.50,130.75 L672.50,133.89 L676.50,137.11 L680.50,140.42 L684.50,143.84 L688.50,147.35 L692.50,150.97 L696.50,154.69 L700.50,158.52 L704.50,162.47 L708.50,166.53 L712.50,170.71 L716.50,175.01 L720.50,179.43 L724.50,183.96 L728.50,188.59 L732.50,193.32 L736.50,198.15 L740.50,203.06 L744.50,208.06 L748.50,213.13 L752.50,218.28 L756.50,223.50 L760.50,228.78 L764.50,234.12 L768.50,239.52 L772.50,244.99 L776.50,250.53 L780.50,256.15 L784.50,261.85 L788.50,267.63 L792.50,273.49 L796.50,279.45 L800.50,285.50 L804.50,291.64 L808.50,297.88 L812.50,304.22 L816.50,310.64 L820.50,317.15 L824.50,323.76 L828.50,330.44 L832.50,337.22 L836.50,344.08 L840.50,351.02 L844.50,358.04 L846.30,361.22" stroke="#94c65a"/><path d="M48.50,231.23 L52.50,227.86 L56.50,224.50 L60.50,221.14 L64.50,217.79 L68.50,214.44 L72.50,211.10 L76.50,207.78 L80.50,204.46 L84.50,201.16 L88.50,197.88 L92.50,194.61 L96.50,191.36 L100.50,188.13 L104.50,184.92 L108.50,181.73 L112.50,178.57 L116.50,175.43 L120.50,172.32 L124.50,169.23 L128.50,166.18 L132.50,163.16 L136.50,160.17 L140.50,157.21 L144.50,154.30 L148.50,151.41 L152.50,148.57 L156.50,145.77 L160.50,143.01 L164.50,140.29 L168.50,137.62 L172.50,134.99 L176.50,132.41 L180.50,129.88 L184.50,127.41 L188.50,124.98 L192.50,122.60 L196.50,120.28 L200.50,118.01 L204.50,115.79 L208.50,113.61 L212.50,111.49 L216.50,109.41 L220.50,107.39 L224.50,105.40 L228.50,103.47 L232.50,101.58 L236.50,99.73 L240.50,97.93 L244.50,96.18 L248.50,94.46 L252.50,92.79 L256.50,91.16 L260.50,89.57 L264.50,88.02 L268.50,86.51 L272.50,85.04 L276.50,83.60 L280.50,82.21 L284.50,80.85 L288.50,79.53 L292.50,78.24 L296.50,76.99 L300.50,75.77 L304.50,74.59 L308.50,73.45 L312.50,72.34 L316.50,71.26 L320.50,70.22 L324.50,69.22 L328.50,68.24 L332.50,67.31 L336.50,66.41 L340.50,65.54 L344.50,64.71 L348.50,63.91 L352.50,63.15 L356.50,62.42 L360.50,61.73 L364.50,61.07 L368.50,60.44 L372.50,59.85 L376.50,59.29 L380.50,58.77 L384.50,58.28 L388.50,57.83 L392.50,57.40 L396.50,57.02 L400.50,56.66 L404.50,56.34 L408.50,56.06 L412.50,55.81 L416.50,55.59 L420.50,55.40 L424.50,55.25 L428.50,55.13 L432.50,55.05 L436.50,54.99 L440.50,54.98 L444.50,54.99 L448.50,55.04 L452.50,55.12 L456.50,55.23 L460.50,55.38 L464.50,55.56 L468.50,55.77 L472.50,56.02 L476.50,56.29 L480.50,56.61 L484.50,56.95 L488.50,57.32 L492.50,57.73 L496.50,58.17 L500.50,58.64 L504.50,59.15 L508.50,59.69 L512.50,60.26 L516.50,60.86 L520.50,61.49 L524.50,62.16 L528.50,62.85 L532.50,63.58 L536.50,64.35 L540.50,65.14 L544.50,65.96 L548.50,66.82 L552.50,67.71 L556.50,68.63 L560.50,69.58 L564.50,70.56 L568.50,71.58 L572.50,72.62 L576.50,73.70 L580.50,74.81 L584.50,75.95 L588.50,77.13 L592.50,78.33 L596.50,79.57 L600.50,80.84 L604.50,82.14 L608.50,83.47 L612.50,84.84 L616.50,86.23 L620.50,87.66 L624.50,89.12 L628.50,90.61 L632.50,92.14 L636.50,93.70 L640.50,95.29 L644.50,96.92 L648.50,98.59 L652.50,100.30 L656.50,102.04 L660.50,103.83 L664.50,105.65 L668.50,107.52 L672.50,109.42 L676.50,111.37 L680.50,113.37 L684.50,115.40 L688.50,117.49 L692.50,119.62 L696.50,121.79 L700.50,124.02 L704.50,126.29 L708.50,128.60 L712.50,130.97 L716.50,133.39 L720.50,135.85 L724.50,138.37 L728.50,140.94 L732.50,143.55 L736.50,146.22 L740.50,148.95 L744.50,151.72 L748.50,154.55 L752.50,157.43 L756.50,160.37 L760.50,163.36 L764.50,166.40 L768.50,169.50 L772.50,172.66 L776.50,175.87 L780.50,179.15 L784.50,182.47 L788.50,185.86 L792.50,189.31 L796.50,192.81 L800.50,196.38 L804.50,200.01 L808.50,203.69 L812.50,207.44 L816.50,211.25 L820.50,215.12 L824.50,219.06 L828.50,223.06 L832.50,227.12 L836.50,231.25 L840.50,235.44 L844.50,239.70 L847.20,242.61" stroke="#e54b94"/><path d="M48.50,316.60 L52.50,313.01 L56.50,309.48 L60.50,306.03 L64.50,302.64 L68.50,299.31 L72.50,296.05 L76.50,292.85 L80.50,289.71 L84.50,286.64 L88.50,283.61 L92.50,280.65 L96.50,277.74 L100.50,274.89 L104.50,272.08 L108.50,269.33 L112.50,266.63 L116.50,263.97 L120.50,261.37 L124.50,258.81 L128.50,256.29 L132.50,253.81 L136.50,251.38 L140.50,248.98 L144.50,246.63 L148.50,244.31 L152.50,242.03 L156.50,239.78 L160.50,237.56 L164.50,235.38 L168.50,233.23 L172.50,231.10 L176.50,229.00 L180.50,226.93 L184.50,224.88 L188.50,222.86 L192.50,220.85 L196.50,218.87 L200.50,216.91 L204.50,214.96 L208.50,213.03 L212.50,211.11 L216.50,209.21 L220.50,207.33 L224.50,205.46 L228.50,203.60 L232.50,201.76 L236.50,199.93 L240.50,198.12 L244.50,196.32 L248.50,194.54 L252.50,192.77 L256.50,191.02 L260.50,189.28 L264.50,187.56 L268.50,185.85 L272.50,184.16 L276.50,182.48 L280.50,180.82 L284.50,179.17 L288.50,177.53 L292.50,175.91 L296.50,174.31 L300.50,172.72 L304.50,171.14 L308.50,169.57 L312.50,168.02 L316.50,166.48 L320.50,164.95 L324.50,163.43 L328.50,161.92 L332.50,160.42 L336.50,158.93 L340.50,157.45 L344.50,155.98 L348.50,154.51 L352.50,153.06 L356.50,151.60 L360.50,150.16 L364.50,148.72 L368.50,147.29 L372.50,145.86 L376.50,144.43 L380.50,143.00 L384.50,141.57 L388.50,140.14 L392.50,138.70 L396.50,137.25 L400.50,135.78 L404.50,134.30 L408.50,132.81 L412.50,131.29 L416.50,129.76 L420.50,128.20 L424.50,126.61 L428.50,124.99 L432.50,123.35 L436.50,121.67 L440.50,119.95 L444.50,118.20 L448.50,116.40 L452.50,114.56 L456.50,112.68 L460.10,110.94 L460.10,110.90 L468.50,99.70 L472.50,99.62 L476.50,99.54 L480.50,99.48 L484.50,99.42 L488.50,99.38 L492.50,99.36 L496.50,99.34 L500.50,99.34 L504.50,99.35 L508.50,99.38 L512.50,99.43 L516.50,99.49 L520.50,99.56 L524.50,99.66 L528.50,99.77 L532.50,99.90 L536.50,100.05 L540.50,100.23 L544.50,100.42 L548.50,100.63 L552.50,100.87 L556.50,101.12 L560.50,101.41 L564.50,101.71 L568.50,102.04 L572.50,102.40 L576.50,102.78 L580.50,103.18 L584.50,103.62 L588.50,104.08 L592.50,104.57 L596.50,105.09 L600.50,105.64 L604.50,106.22 L608.50,106.83 L612.50,107.47 L616.50,108.14 L620.50,108.85 L624.50,109.59 L628.50,110.36 L632.50,111.16 L636.50,112.00 L640.50,112.86 L644.50,113.76 L648.50,114.69 L652.50,115.64 L656.50,116.63 L660.50,117.64 L664.50,118.69 L668.50,119.76 L672.50,120.86 L676.50,121.98 L680.50,123.13 L684.50,124.31 L688.50,125.52 L692.50,126.75 L696.50,128.00 L700.50,129.28 L704.50,130.58 L708.50,131.91 L712.50,133.26 L716.50,134.63 L720.50,136.02 L724.50,137.44 L728.50,138.87 L732.50,140.33 L736.50,141.81 L740.50,143.30 L744.50,144.82 L748.50,146.36 L752.50,147.91 L756.50,149.48 L760.50,151.07 L764.50,152.68 L768.50,154.31 L772.50,155.95 L776.50,157.60 L780.50,159.28 L784.50,160.96 L788.50,162.66 L792.50,164.38 L796.50,166.11 L800.50,167.85 L804.50,169.61 L808.50,171.37 L812.50,173.15 L816.50,174.94 L820.50,176.74 L824.50,178.56 L828.50,180.38 L832.50,182.21 L836.50,184.05 L840.50,185.90 L844.50,187.76 L847.20,189.02" stroke="#e2000f"/><path d="M48.50,205.20 L52.50,202.91 L56.50,200.52 L60.50,198.04 L64.50,195.45 L68.50,192.78 L72.50,190.02 L76.50,187.18 L80.50,184.25 L84.50,181.25 L88.50,178.18 L92.50,175.03 L96.50,171.82 L100.50,168.55 L104.50,165.22 L108.50,161.83 L112.50,158.38 L116.50,154.89 L120.50,151.35 L124.50,147.77 L128.50,144.15 L132.50,140.50 L136.50,136.81 L140.50,133.09 L142.10,131.60 L146.10,130.02 L150.10,128.41 L154.10,126.76 L158.10,125.07 L162.10,123.34 L166.10,121.56 L170.10,119.74 L174.10,117.87 L178.10,115.96 L182.10,113.99 L186.10,111.98 L190.10,109.91 L194.10,107.79 L198.10,105.62 L202.10,103.40 L206.10,101.12 L210.10,98.78 L214.10,96.40 L218.10,94.02 L222.10,91.68 L226.10,89.41 L230.10,87.27 L234.10,85.27 L238.10,83.42 L242.10,81.68 L246.10,80.06 L250.10,78.51 L254.10,77.04 L258.10,75.64 L262.10,74.30 L266.10,73.03 L270.10,71.82 L274.10,70.66 L278.10,69.57 L282.10,68.53 L286.10,67.54 L290.10,66.60 L294.10,65.71 L298.10,64.87 L302.10,64.07 L306.10,63.32 L310.10,62.60 L314.10,61.93 L318.10,61.29 L322.10,60.68 L326.10,60.11 L330.10,59.57 L334.10,59.06 L338.10,58.57 L342.10,58.12 L346.10,57.69 L350.10,57.30 L354.10,56.93 L358.10,56.59 L362.10,56.28 L366.10,55.99 L370.10,55.74 L374.10,55.51 L378.10,55.31 L382.10,55.14 L386.10,54.99 L390.10,54.87 L394.10,54.78 L398.10,54.72 L402.10,54.68 L406.10,54.67 L410.10,54.69 L414.10,54.73 L418.10,54.80 L422.10,54.89 L426.10,55.01 L430.10,55.16 L434.10,55.33 L438.10,55.53 L442.10,55.75 L446.10,56.00 L450.10,56.27 L454.10,56.57 L458.10,56.90 L462.10,57.24 L466.10,57.62 L470.10,58.01 L474.10,58.43 L478.10,58.88 L482.10,59.35 L486.10,59.84 L490.10,60.36 L494.10,60.91 L498.10,61.48 L502.10,62.08 L506.10,62.71 L510.10,63.37 L514.10,64.06 L518.10,64.78 L522.10,65.53 L526.10,66.31 L530.10,67.13 L534.10,67.98 L538.10,68.87 L542.10,69.79 L546.10,70.75 L550.10,71.74 L554.10,72.77 L558.10,73.85 L562.10,74.96 L566.10,76.11 L570.10,77.30 L574.10,78.54 L578.10,79.82 L582.10,81.14 L586.10,82.50 L590.10,83.91 L594.10,85.37 L598.10,86.87 L602.10,88.42 L606.10,90.02 L610.10,91.66 L614.10,93.36 L618.10,95.09 L622.10,96.87 L626.10,98.68 L630.10,100.52 L634.10,102.39 L638.10,104.29 L642.10,106.21 L646.10,108.14 L650.10,110.10 L654.10,112.08 L658.10,114.09 L662.10,116.14 L666.10,118.21 L670.10,120.32 L674.10,122.47 L678.10,124.66 L682.10,126.89 L686.10,129.17 L690.10,131.49 L694.10,133.84 L698.10,136.23 L702.10,138.65 L706.10,141.11 L710.10,143.58 L714.10,146.08 L718.10,148.61 L722.10,151.15 L726.10,153.70 L730.10,156.27 L734.10,158.85 L738.10,161.43 L742.10,164.02 L746.10,166.60 L750.10,169.19 L754.10,171.77 L758.10,174.34 L762.10,176.90 L766.10,179.46 L770.10,182.03 L774.10,184.62 L778.10,187.24 L782.10,189.91 L786.10,192.65 L790.10,195.46 L794.10,198.36 L798.10,201.36 L802.10,204.44 L806.10,207.59 L810.10,210.77 L814.10,213.96 L818.10,217.12 L822.10,220.24 L826.10,223.28 L830.10,226.22 L834.10,229.03 L838.10,231.68 L842.10,234.16 L846.10,236.42 L847.20,237.00" stroke="#fbbc05"/><path d="M48.50,265.01 L52.50,260.87 L56.50,256.76 L60.50,252.68 L64.50,248.63 L68.50,244.61 L72.50,240.62 L76.50,236.65 L80.50,232.72 L84.50,228.82 L88.50,224.95 L92.50,221.12 L96.50,217.31 L100.50,213.54 L104.50,209.80 L108.50,206.10 L112.50,202.43 L116.50,198.80 L120.50,195.20 L124.50,191.65 L128.50,188.12 L132.50,184.64 L136.50,181.19 L140.50,177.79 L144.50,174.42 L148.50,171.09 L152.50,167.80 L156.50,164.55 L160.50,161.35 L164.50,158.19 L168.50,155.07 L172.50,151.99 L176.50,148.95 L180.50,145.96 L184.50,143.02 L188.50,140.12 L192.50,137.26 L196.50,134.45 L200.50,131.69 L204.50,128.97 L208.50,126.30 L212.50,123.67 L216.50,121.09 L220.50,118.56 L224.50,116.08 L228.50,113.64 L232.50,111.25 L236.50,108.91 L240.50,106.61 L244.50,104.36 L248.50,102.16 L252.50,100.01 L256.50,97.90 L260.50,95.84 L264.50,93.83 L268.50,91.86 L272.50,89.95 L276.50,88.07 L280.50,86.25 L284.50,84.47 L288.50,82.75 L292.50,81.06 L296.50,79.43 L300.50,77.84 L304.50,76.30 L308.50,74.81 L312.50,73.37 L316.50,71.97 L320.50,70.62 L324.50,69.32 L328.50,68.06 L332.50,66.86 L336.50,65.70 L340.50,64.58 L344.50,63.52 L348.50,62.50 L352.50,61.53 L356.50,60.60 L360.50,59.72 L364.50,58.88 L368.50,58.10 L372.50,57.35 L376.50,56.65 L380.50,56.00 L384.50,55.39 L388.50,54.82 L392.50,54.30 L396.50,53.82 L400.50,53.39 L404.50,53.00 L408.50,52.65 L412.50,52.35 L416.50,52.09 L420.50,51.87 L424.50,51.69 L428.50,51.56 L432.50,51.47 L436.50,51.42 L440.50,51.41 L444.50,51.44 L448.50,51.51 L452.50,51.63 L456.50,51.78 L460.50,51.98 L464.50,52.21 L468.50,52.49 L472.50,52.80 L476.50,53.15 L480.50,53.55 L484.50,53.98 L488.50,54.45 L492.50,54.96 L496.50,55.51 L500.50,56.09 L504.50,56.71 L508.50,57.37 L512.50,58.07 L516.50,58.81 L520.50,59.58 L524.50,60.39 L528.50,61.24 L532.50,62.12 L536.50,63.04 L540.50,63.99 L544.50,64.99 L548.50,66.03 L552.50,67.11 L556.50,68.23 L560.50,69.40 L564.50,70.61 L568.50,71.87 L572.50,73.17 L576.50,74.53 L580.50,75.93 L584.50,77.38 L588.50,78.89 L592.50,80.44 L596.50,82.05 L600.50,83.71 L604.50,85.43 L608.50,87.21 L612.50,89.04 L616.50,90.94 L620.50,92.89 L624.50,94.90 L628.50,96.96 L632.50,99.09 L636.50,101.28 L640.50,103.54 L644.50,105.85 L648.50,108.23 L652.50,110.67 L656.50,113.17 L660.50,115.73 L664.50,118.37 L668.50,121.06 L672.50,123.82 L676.50,126.65 L680.50,129.55 L684.50,132.51 L688.50,135.54 L692.50,138.64 L696.50,141.80 L700.50,145.04 L704.50,148.34 L708.50,151.72 L712.50,155.17 L716.50,158.69 L720.50,162.28 L724.50,165.94 L728.50,169.68 L732.50,173.49 L736.50,177.37 L740.50,181.33 L744.50,185.37 L748.50,189.48 L752.50,193.66 L756.50,197.93 L760.50,202.27 L764.50,206.69 L768.50,211.18 L772.50,215.75 L776.50,220.40 L780.50,225.12 L784.50,229.92 L788.50,234.79 L792.50,239.73 L796.50,244.75 L800.50,249.84 L804.50,254.99 L808.50,260.22 L812.50,265.52 L816.50,270.89 L820.50,276.32 L824.50,281.83 L828.50,287.39 L832.50,293.03 L836.50,298.73 L840.50,304.50 L844.50,310.33 L847.20,314.30" stroke="#4fc0ee"/></g></g>
<g class="clab"><text x="827.5" y="169.3" fill="#e2000f">g</text><text x="836.5" y="224.4" fill="#fbbc05">f</text><text x="823.2" y="241.6" fill="#e54b94">e</text><text x="825.5" y="270.4" fill="#4fc0ee">d</text><text x="788.3" y="296.5" fill="#94c65a">b</text><text x="788.2" y="312.5" fill="#94c65a">c</text><text x="772.0" y="345.5" fill="#a01c1a">a</text></g>
<g class="leg"><rect x="48.2" y="429.2" width="9.7" height="9.6" fill="#a01c1a"/><text x="64.4" y="438.8" textLength="163.5">a: 1841.6 l/mm (AOI 47.4°)</text><rect x="365.2" y="429.2" width="9.7" height="9.6" fill="#94c65a"/><text x="380.6" y="438.8" textLength="166.1">b: 1751.3 l/mm (AOI 44.5°)</text><rect x="668.8" y="429.2" width="9.7" height="9.6" fill="#94c65a"/><text x="684.7" y="438.8" textLength="163.0">c: 1739.1 l/mm (AOI 44.1°)</text><rect x="48.2" y="458.0" width="9.7" height="9.6" fill="#4fc0ee"/><text x="64.4" y="467.6" textLength="165.0">d: 1700.7 l/mm (AOI 42.9°)</text><rect x="365.2" y="458.0" width="9.7" height="9.6" fill="#e54b94"/><text x="380.6" y="467.6" textLength="165.6">e: 1600.0 l/mm (AOI 39.8°)</text><rect x="668.8" y="458.0" width="9.7" height="9.6" fill="#fbbc05"/><text x="684.7" y="467.6" textLength="162.5">f: 1379.3 l/mm (AOI 33.5°)</text><rect x="48.2" y="486.6" width="9.7" height="9.6" fill="#e2000f"/><text x="64.4" y="496.2" textLength="164.3">g: 1200.5 l/mm (AOI 28.7°)</text></g>
</svg>
</body></html>
